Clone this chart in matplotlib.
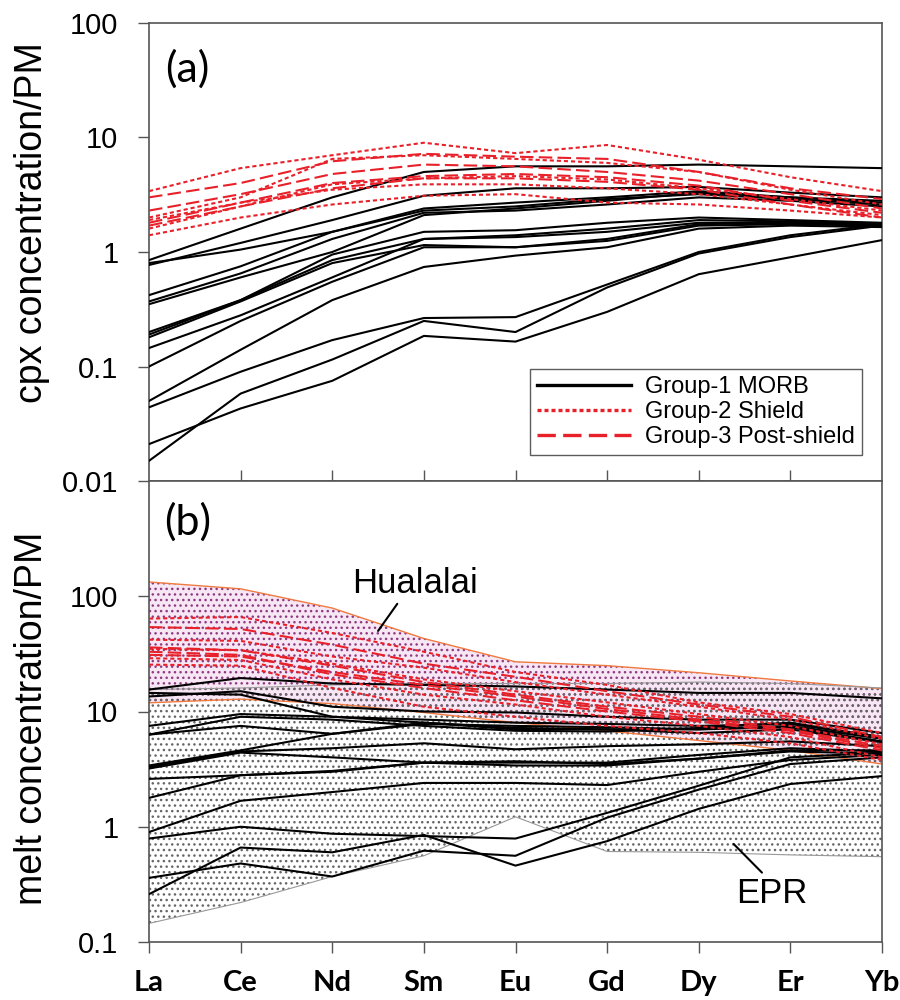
import numpy as np
import matplotlib
matplotlib.use('Agg')
import matplotlib.pyplot as plt
from matplotlib.lines import Line2D

ree = ['La', 'Ce', 'Nd', 'Sm', 'Eu', 'Gd', 'Dy', 'Er', 'Yb']

# (a) cpx / PM
cpx_morb = [
    [0.85, 1.6, 3.0, 5.0, 5.6, 5.6, 5.8, 5.6, 5.4],
    [0.77, 1.2, 1.9, 3.1, 3.6, 3.6, 3.7, 3.3, 3.0],
    [0.80, 1.05, 1.5, 2.4, 2.7, 3.0, 3.4, 3.0, 2.7],
    [0.42, 0.75, 1.5, 2.3, 2.5, 2.9, 3.2, 2.9, 2.6],
    [0.37, 0.65, 1.3, 2.2, 2.3, 2.6, 3.0, 2.8, 2.5],
    [0.35, 0.60, 1.0, 2.1, 2.4, 2.8, 3.3, 3.0, 2.8],
    [0.20, 0.38, 0.95, 1.5, 1.55, 1.8, 2.0, 1.9, 1.8],
    [0.19, 0.38, 0.85, 1.3, 1.4, 1.6, 1.9, 1.85, 1.75],
    [0.18, 0.37, 0.80, 1.15, 1.1, 1.25, 1.7, 1.75, 1.7],
    [0.145, 0.28, 0.60, 1.3, 1.35, 1.5, 1.8, 1.8, 1.7],
    [0.10, 0.25, 0.55, 1.1, 1.1, 1.3, 1.75, 1.8, 1.75],
    [0.05, 0.14, 0.38, 0.74, 0.93, 1.1, 1.6, 1.7, 1.65],
    [0.044, 0.09, 0.17, 0.265, 0.27, 0.52, 1.0, 1.4, 1.75],
    [0.021, 0.043, 0.075, 0.185, 0.165, 0.30, 0.64, 0.9, 1.27],
    [0.015, 0.058, 0.115, 0.25, 0.20, 0.49, 0.97, 1.35, 1.7],
]
cpx_shield = [
    [3.4, 5.4, 7.0, 9.0, 7.3, 8.6, 6.4, 4.5, 3.4],
    [2.0, 3.0, 6.5, 7.0, 6.5, 6.0, 5.0, 3.5, 2.6],
    [1.9, 2.7, 3.5, 3.9, 3.9, 3.6, 3.2, 2.6, 2.1],
    [1.4, 2.0, 2.6, 3.1, 3.2, 2.7, 2.6, 2.3, 2.0],
    [1.6, 2.5, 3.9, 4.4, 4.6, 4.3, 3.6, 2.9, 2.3],
]
cpx_post = [
    [3.0, 4.0, 6.2, 7.2, 6.8, 6.5, 5.0, 3.6, 2.9],
    [2.3, 3.2, 4.8, 5.8, 5.6, 5.0, 4.2, 3.2, 2.4],
    [1.8, 2.7, 4.0, 4.6, 4.8, 4.5, 3.8, 2.8, 2.2],
    [1.7, 2.5, 3.6, 4.4, 4.4, 4.1, 3.5, 2.6, 2.0],
]

# (b) melt / PM
melt_morb = [
    [15.5, 19.5, 17.5, 17.0, 16.5, 15.5, 14.5, 14.5, 13.0],
    [13.5, 15.0, 11.0, 10.0, 9.8, 9.0, 8.5, 8.5, 6.5],
    [14.5, 14.0, 9.0, 8.5, 8.0, 7.8, 7.5, 7.8, 6.0],
    [7.5, 9.5, 9.0, 8.0, 7.0, 7.0, 7.0, 7.5, 5.8],
    [6.3, 9.0, 8.5, 7.5, 6.8, 6.7, 7.2, 8.0, 6.0],
    [6.3, 7.5, 6.4, 7.8, 7.5, 7.3, 7.0, 7.3, 5.5],
    [3.4, 4.6, 6.4, 8.0, 7.2, 7.0, 6.5, 7.0, 5.4],
    [3.3, 4.5, 4.8, 5.3, 4.7, 5.0, 5.2, 5.5, 5.0],
    [3.2, 4.4, 4.0, 3.6, 3.6, 3.6, 4.2, 4.8, 4.5],
    [2.6, 2.8, 3.0, 3.6, 3.4, 3.4, 3.9, 4.5, 4.3],
    [1.78, 2.8, 3.05, 3.6, 3.7, 3.5, 3.9, 4.6, 4.6],
    [0.9, 1.68, 2.0, 2.4, 2.4, 2.3, 3.0, 3.8, 4.2],
    [0.79, 1.0, 0.87, 0.83, 0.79, 1.32, 2.27, 4.0, 4.4],
    [0.36, 0.48, 0.37, 0.62, 0.56, 1.2, 2.1, 3.5, 4.0],
    [0.26, 0.66, 0.60, 0.85, 0.46, 0.75, 1.43, 2.35, 2.75],
]
melt_shield = [
    [64, 66, 48, 33, 22, 17, 12, 9.5, 6.5],
    [29, 28, 19, 14, 11.5, 9.0, 7.5, 6.0, 4.0],
    [25.5, 25, 16, 11, 9.0, 7.5, 6.5, 5.3, 3.8],
    [42, 41, 30, 24, 18, 14, 11, 8.5, 5.8],
    [35, 34, 26, 19, 15, 12, 9.5, 7.5, 5.2],
]
melt_post = [
    [54, 52, 38, 26, 20, 15, 11.5, 9.0, 6.0],
    [36, 34, 25, 18, 14, 11, 9.0, 7.0, 5.0],
    [33, 31, 21, 16, 12.5, 10, 8.2, 6.5, 4.6],
    [31, 30, 22, 17, 13.5, 10.5, 8.5, 6.8, 4.8],
]

hualalai_top = [133, 116, 79, 43, 27, 25, 21.7, 18.4, 15.8]
hualalai_bot = [11.9, 12.8, 11.7, 9.8, 8.0, 6.8, 5.6, 4.6, 3.5]
epr_top = [15.5, 16, 17, 17.5, 17.5, 17.5, 18, 17.5, 16]
epr_bot = [0.145, 0.22, 0.37, 0.56, 1.22, 0.61, 0.6, 0.57, 0.55]

red = '#e8202a'
dot_style = (0, (2.0, 1.4))
dash_style = (0, (6.5, 2.5))
tick_font = 'Liberation Sans'

x = np.arange(len(ree))

fig = plt.figure(figsize=(9, 10), dpi=100)
ax1 = fig.add_axes([149/900, 1-481/1000, 733/900, 458/1000])
ax2 = fig.add_axes([149/900, 1-942/1000, 733/900, 461/1000])


def style_axis(ax, yticks, ylabels):
    ax.set_yscale('log')
    ax.set_xlim(0, 8)
    ax.set_yticks(yticks)
    ax.set_yticklabels(ylabels, fontfamily=tick_font, fontsize=21)
    ax.yaxis.set_minor_locator(matplotlib.ticker.NullLocator())
    ax.tick_params(axis='y', direction='out', length=8, width=1, color='#555555', pad=14)
    for s in ax.spines.values():
        s.set_color('#555555')
        s.set_linewidth(1.2)


# panel (a)
for v in cpx_morb:
    ax1.plot(x, v, color='black', lw=1.5, zorder=3)
for v in cpx_shield:
    ax1.plot(x, v, color=red, lw=1.5, ls=dot_style, zorder=4)
for v in cpx_post:
    ax1.plot(x, v, color=red, lw=1.5, ls=dash_style, zorder=4)
ax1.set_ylim(0.01, 100)
style_axis(ax1, [0.01, 0.1, 1, 10, 100], ['0.01', '0.1', '1', '10', '100'])
ax1.set_xticks(x[1:-1])
ax1.set_xticklabels([])
ax1.tick_params(axis='x', direction='in', length=8, width=1, color='#555555')
ax1.text(0.052, 0.9, '(a)', transform=ax1.transAxes, fontsize=31, family='Lato',
         ha='center', va='center')

handles = [Line2D([], [], color='black', lw=2.4),
           Line2D([], [], color=red, lw=2.4, ls=(0, (1.2, 0.9))),
           Line2D([], [], color=red, lw=2.4, ls=(0, (5.5, 2.2)))]
leg = ax1.legend(handles, ['Group-1 MORB', 'Group-2 Shield', 'Group-3 Post-shield'],
                 loc='lower right', bbox_to_anchor=(0.973, 0.057), fancybox=False,
                 frameon=True, edgecolor='#333333', handlelength=4.0, handletextpad=0.6,
                 labelspacing=0.12, borderpad=0.3, borderaxespad=0,
                 prop={'family': tick_font, 'size': 17})
leg.get_frame().set_linewidth(1.0)

# panel (b)
ax2.fill_between(x, hualalai_bot, hualalai_top, facecolor='#f7e7f4', edgecolor='#8e3a80',
                 hatch='...', linewidth=0, zorder=1)
ax2.fill_between(x, epr_bot, epr_top, facecolor='none', edgecolor='#666666',
                 hatch='...', linewidth=0, zorder=1.5)
ax2.plot(x, hualalai_top, color='#f07a40', lw=1.0, zorder=2)
ax2.plot(x, hualalai_bot, color='#f07a40', lw=1.0, zorder=2)
ax2.plot(x, epr_top, color='#999999', lw=0.8, zorder=2)
ax2.plot(x, epr_bot, color='#999999', lw=0.8, zorder=2)

for v in melt_morb:
    ax2.plot(x, v, color='black', lw=1.5, zorder=3)
for v in melt_shield:
    ax2.plot(x, v, color=red, lw=1.5, ls=dot_style, zorder=4)
for v in melt_post:
    ax2.plot(x, v, color=red, lw=1.5, ls=dash_style, zorder=4)
ax2.set_ylim(0.1, 1000)
style_axis(ax2, [0.1, 1, 10, 100], ['0.1', '1', '10', '100'])
ax2.set_xticks(x)
ax2.set_xticklabels(ree, fontfamily='Lato', fontweight='bold', fontsize=21)
ax2.tick_params(axis='x', direction='out', length=8, width=1, color='#555555', pad=12)
ax2.text(0.053, 0.91, '(b)', transform=ax2.transAxes, fontsize=31, family='Lato',
         ha='center', va='center')

# labels of the fields with their leader lines
ax2.text(2.9, 128, 'Hualalai', fontsize=25, family=tick_font, ha='center', va='center')
ax2.annotate('', xy=(2.5, 50), xytext=(2.71, 86),
             arrowprops=dict(arrowstyle='-', color='black', lw=1.5, shrinkA=0, shrinkB=0))
ax2.text(6.8, 0.262, 'EPR', fontsize=25, family=tick_font, ha='center', va='center')
ax2.annotate('', xy=(6.38, 0.71), xytext=(6.69, 0.40),
             arrowprops=dict(arrowstyle='-', color='black', lw=1.5, shrinkA=0, shrinkB=0))

fig.text(32/900, 1-223/1000, 'cpx concentration/PM', rotation=90, fontsize=27,
         family=tick_font, ha='center', va='center')
fig.text(32/900, 1-718/1000, 'melt concentration/PM', rotation=90, fontsize=27,
         family=tick_font, ha='center', va='center')

fig.savefig('out.png', dpi=100)
